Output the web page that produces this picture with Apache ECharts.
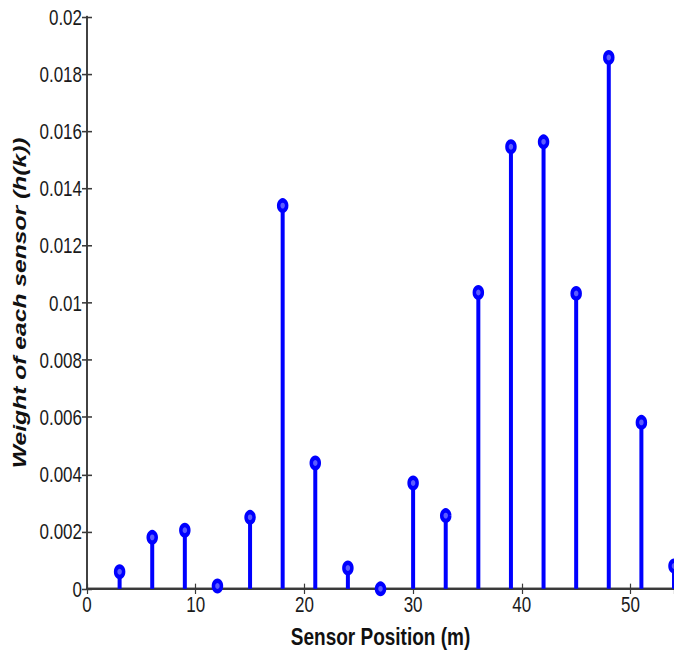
<!DOCTYPE html>
<html>
<head>
<meta charset="utf-8">
<script src="https://cdn.jsdelivr.net/npm/echarts@6/dist/echarts.min.js"></script>
<style>
  html, body { margin: 0; padding: 0; background: #fff; }
  #frame { width: 674px; height: 655px; overflow: hidden; position: relative; }
  /* figure is laid out at 4:3 and shown stretched to the window height */
  #chart { position: absolute; left: 0; top: 0; width: 674px; height: 505px;
           transform-origin: 0 0; transform: scaleY(1.297); }
</style>
</head>
<body>
<div id="frame"><div id="chart"></div></div>
<script>
// Sensor positions along the array (m)
const positions = [3, 6, 9, 12, 15, 18, 21, 24, 27, 30, 33, 36, 39, 42, 45, 48, 51, 54];
// Weight h(k) assigned to each sensor
const weights = [0.0006, 0.0018, 0.00205, 0.0001, 0.0025, 0.0134, 0.0044, 0.00073, 0.0,
                 0.0037, 0.00256, 0.01036, 0.01546, 0.01563, 0.01033, 0.01858, 0.00582, 0.0008];
// Axis ranges and tick spacing
const xRange = [0, 54];
const xStep = 10;
const yRange = [0, 0.02];
const yStep = 0.002;

const pts = positions.map((p, i) => [p, weights[i]]);
const FONT = '"Liberation Sans", Arial, sans-serif';
const axisColor = '#3a3a3a';
const stemBlue = '#0000ff';

const chart = echarts.init(document.getElementById('chart'), null, { renderer: 'svg' });
chart.setOption({
  backgroundColor: '#ffffff',
  animation: false,
  grid: { left: 87, right: -3, top: 13, bottom: 47, containLabel: false },
  xAxis: [
    {
      type: 'value', min: xRange[0], max: xRange[1], interval: xStep,
      position: 'bottom',
      name: 'Sensor Position (m)', nameLocation: 'middle', nameGap: 27,
      nameTextStyle: { fontFamily: FONT, fontSize: 19, fontWeight: 'bold', color: '#111' },
      axisLine: { show: true, lineStyle: { color: axisColor, width: 1.6 } },
      axisTick: { show: true, inside: true, length: 4, lineStyle: { color: axisColor, width: 1.2 } },
      axisLabel: { fontFamily: FONT, fontSize: 17, color: '#1a1a1a', margin: 3, showMaxLabel: false },
      splitLine: { show: false }
    },
    {
      type: 'value', min: xRange[0], max: xRange[1], interval: xStep,
      position: 'top',
      axisLine: { show: true, lineStyle: { color: axisColor, width: 1.6 } },
      axisTick: { show: true, inside: true, length: 4, lineStyle: { color: axisColor, width: 1.2 } },
      axisLabel: { show: false },
      splitLine: { show: false }
    }
  ],
  yAxis: [
    {
      type: 'value', min: yRange[0], max: yRange[1], interval: yStep,
      position: 'left',
      name: 'Weight of each sensor (h(k))', nameLocation: 'middle', nameGap: 54, nameRotate: 90,
      nameTextStyle: { fontFamily: FONT, fontSize: 19, fontWeight: 'bold', fontStyle: 'italic', color: '#111' },
      axisLine: { show: true, lineStyle: { color: axisColor, width: 1.6 } },
      axisTick: { show: true, inside: true, length: 5, lineStyle: { color: axisColor, width: 1.2 } },
      axisLabel: { fontFamily: FONT, fontSize: 17, color: '#1a1a1a', margin: 5 },
      splitLine: { show: false }
    },
    {
      type: 'value', min: yRange[0], max: yRange[1], interval: yStep,
      position: 'right',
      axisLine: { show: true, lineStyle: { color: axisColor, width: 1.6 } },
      axisTick: { show: true, inside: true, length: 5, lineStyle: { color: axisColor, width: 1.2 } },
      axisLabel: { show: false },
      splitLine: { show: false }
    }
  ],
  series: [
    {
      // stems
      type: 'bar',
      xAxisIndex: 0, yAxisIndex: 0,
      data: pts,
      barWidth: 4,
      itemStyle: { color: stemBlue },
      z: 2
    },
    {
      // open-circle stem heads drawn with a heavy edge
      type: 'scatter',
      xAxisIndex: 0, yAxisIndex: 0,
      data: pts,
      symbol: 'circle',
      symbolSize: 8,
      itemStyle: { color: '#5c5cff', borderColor: stemBlue, borderWidth: 3.5, opacity: 1 },
      z: 3
    }
  ]
});
</script>
</body>
</html>
